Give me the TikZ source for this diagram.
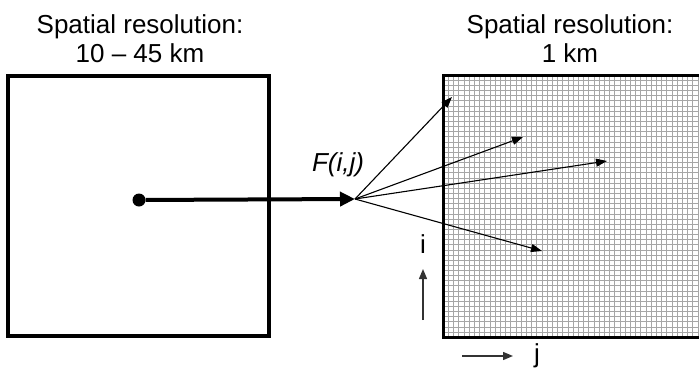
\documentclass[tikz,border=0pt]{standalone}
\usepackage{fontspec}
\setmainfont{Liberation Sans}
\usetikzlibrary{arrows.meta}
\begin{document}
\begin{tikzpicture}[x=1pt, y=-1pt,
    cell/.style={rectangle, draw, line width=4pt, minimum width=261pt, minimum height=260pt, inner sep=0pt},
    title/.style={font=\fontsize{26}{30}\selectfont, align=center, inner sep=0pt, anchor=base},
    label/.style={font=\fontsize{26}{30}\selectfont, inner sep=0pt, anchor=base},
    gridline/.style={draw=black!35, line width=0.5pt},
    bigarrow/.style={-{Triangle[length=15pt,width=14pt]}, line width=4pt},
    arrow/.style={-{Triangle[length=11pt,width=8pt]}, line width=1.1pt},
    smallarrow/.style={-{Triangle[length=10pt,width=8pt]}, line width=1.4pt, draw=black!80}
]
\useasboundingbox (0,0) rectangle (699,370);

% titles
\node[title] (tleft) at (140,33) {Spatial resolution:};
\node[title] (tleft2) at (140,62) {10 -- 45 km};
\node[title] (tright) at (570,33) {Spatial resolution:};
\node[title] (tright2) at (570,62) {1 km};

% coarse cell
\node[cell] (coarse) at (138.5,206) {};

% fine grid, cut at the right edge
\begin{scope}
  \clip (0,0) rectangle (699,370);
  \foreach \k in {1,...,51} {
    \draw[gridline] (443+5.2*\k,75) -- (443+5.2*\k,337);
    \draw[gridline] (443,75+5.14*\k) -- (710,75+5.14*\k);
  }
  \draw[line width=3pt] (710,75) -- (443,75) -- (443,337) -- (710,337);
\end{scope}

% source point and downscaling
\node[circle, fill, inner sep=0pt, minimum size=13pt] (src) at (139,200) {};
\coordinate (hub) at (355,199);
\node[label] (fij) at (338,171) {\itshape F(i,j)};
\coordinate (t1) at (452,97);
\coordinate (t2) at (523,137);
\coordinate (t3) at (607,161);
\coordinate (t4) at (542,251);

\draw[bigarrow] (src) -- (hub);
\foreach \t in {t1,t2,t3,t4}
  \draw[arrow] (hub) -- (\t);

% axes
\node[label] (ilab) at (423,253) {i};
\coordinate (ifoot) at (423,320);
\coordinate (ihead) at (423,269);
\draw[smallarrow] (ifoot) -- (ihead);
\node[label] (jlab) at (537,362) {j};
\coordinate (jfoot) at (462,356);
\coordinate (jhead) at (513,356);
\draw[smallarrow] (jfoot) -- (jhead);
\end{tikzpicture}
\end{document}
